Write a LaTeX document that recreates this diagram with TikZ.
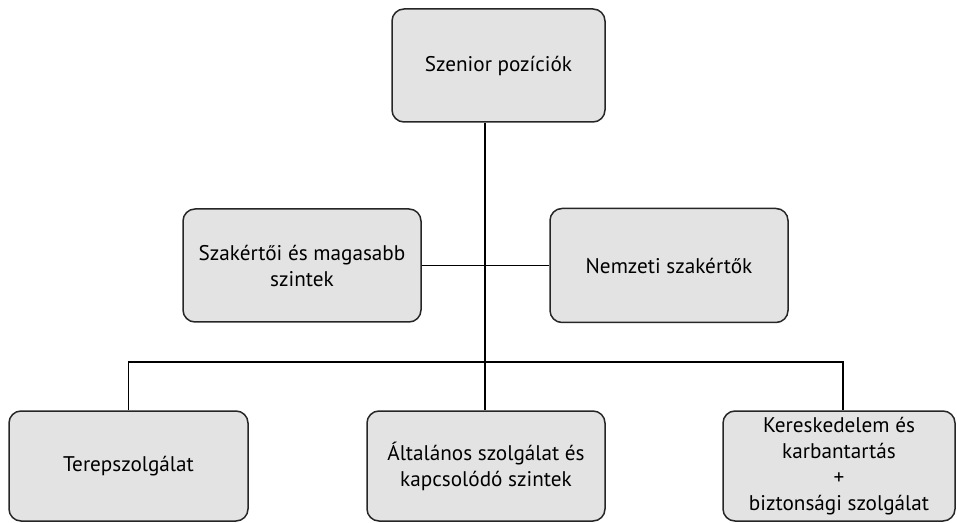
\documentclass[tikz,border=0pt]{standalone}
\usepackage{fontspec}
\setmainfont{PT Sans}
\usepackage{tikz}
\usetikzlibrary{positioning, calc}

\tikzset{
  box/.style={draw=black!85, line width=0.75pt, fill=black!11, rounded corners=6pt,
    align=center, font=\fontsize{10.6}{13}\selectfont, inner sep=0pt},
  link/.style={line width=0.55pt, black}
}

\begin{document}
\begin{tikzpicture}[x=0.5pt, y=-0.5pt]
  % page frame
  \useasboundingbox (0,0) rectangle (957,523);

  % Top level
  \node[box, minimum width=106.5pt, minimum height=56.5pt] (top) at (498.5,65.5) {Szenior pozíciók};

  % Middle level
  \node[box, minimum width=119pt, minimum height=56.5pt] (midL) at (302,265.5) {Szakértői és magasabb\\szintek};
  \node[box, minimum width=119pt, minimum height=57pt] (midR) at (669,265.5) {Nemzeti szakértők};

  % Bottom level
  \node[box, minimum width=119.5pt, minimum height=55pt] (botL) at (128.5,466) {Terepszolgálat};
  \node[box, minimum width=119pt, minimum height=55pt] (botM) at (486,466) {Általános szolgálat és\\kapcsolódó szintek};
  \node[box, minimum width=116pt, minimum height=55pt] (botR) at (839,466) {Kereskedelem és\\karbantartás\\+\\biztonsági szolgálat};

  % Junctions
  \coordinate (hub) at (485,362);
  \coordinate (jL) at (128.5,362);
  \coordinate (jR) at (843,362);

  % Connectors
  \draw[link] (top.south -| hub) -- (botM.north -| hub);
  \draw[link] (midL.east) -- (midR.west);
  \draw[link] (botL.north) -- (jL) -- (jR) -- (botR.north -| jR);
\end{tikzpicture}
\end{document}
